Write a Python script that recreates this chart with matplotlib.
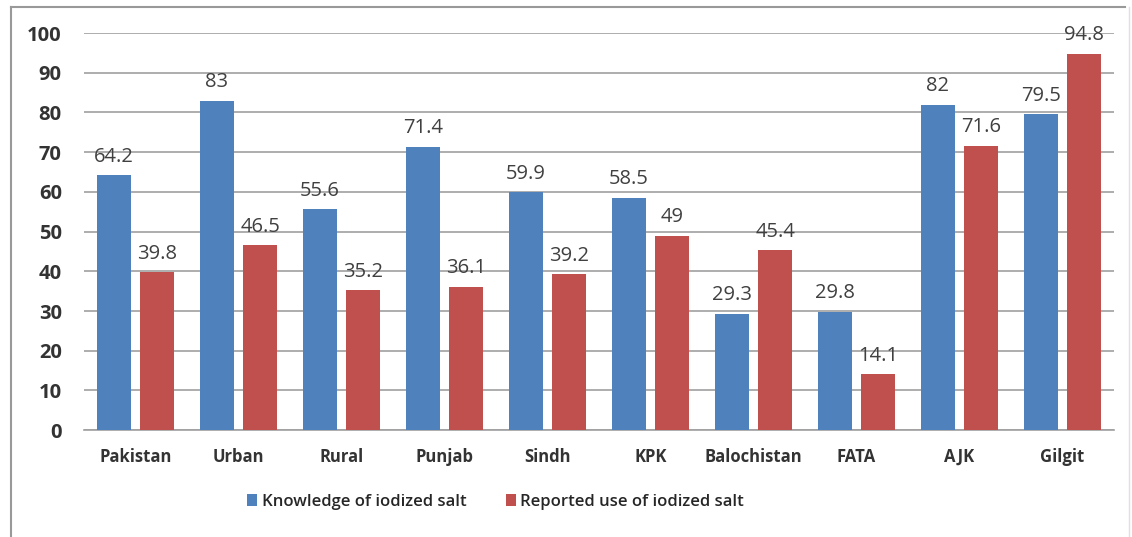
import matplotlib.pyplot as plt
from matplotlib.lines import Line2D
import numpy as np

regions = ["Pakistan", "Urban", "Rural", "Punjab", "Sindh", "KPK",
           "Balochistan", "FATA", "AJK", "Gilgit"]
knowledge = [64.2, 83, 55.6, 71.4, 59.9, 58.5, 29.3, 29.8, 82, 79.5]
reported_use = [39.8, 46.5, 35.2, 36.1, 39.2, 49, 45.4, 14.1, 71.6, 94.8]
labels_k = ["64.2", "83", "55.6", "71.4", "59.9", "58.5", "29.3", "29.8", "82", "79.5"]
labels_r = ["39.8", "46.5", "35.2", "36.1", "39.2", "49", "45.4", "14.1", "71.6", "94.8"]

blue = "#4F81BD"
red = "#C0504D"

plt.rcParams["font.family"] = ["Open Sans", "DejaVu Sans"]

fig = plt.figure(figsize=(11.32, 5.37), dpi=100)
ax = fig.add_axes([0.0742, 0.199, 0.9099, 0.7395])

x = np.arange(len(regions))
w = 0.325
off = 0.21
b1 = ax.bar(x - off, knowledge, w, color=blue, label="Knowledge of iodized salt", zorder=3)
b2 = ax.bar(x + off, reported_use, w, color=red, label="Reported use of iodized salt", zorder=3)

for bars, labs in ((b1, labels_k), (b2, labels_r)):
    for rect, lab in zip(bars, labs):
        ax.annotate(lab, (rect.get_x() + rect.get_width() / 2, rect.get_height()),
                    xytext=(0, 6), textcoords="offset points", ha="center", va="bottom",
                    fontsize=14.5, color="#404040")

ax.set_xlim(-0.5, len(regions) - 0.5)
ax.set_ylim(0, 100)
ax.set_yticks(range(0, 101, 10))
ax.yaxis.grid(True, color="#a0a0a0", linewidth=1.2, zorder=0)
ax.set_axisbelow(True)
ax.set_xticks(x)
ax.set_xticklabels(regions, fontsize=12, fontweight="bold", color="#333333")
for t in ax.get_yticklabels():
    t.set_fontsize(14.5)
    t.set_fontweight("bold")
    t.set_color("#333333")
ax.tick_params(axis="both", length=0)
ax.tick_params(axis="x", pad=13)
ax.tick_params(axis="y", pad=16)
for s in ("top", "right", "left"):
    ax.spines[s].set_visible(False)
ax.spines["bottom"].set_color("#a0a0a0")
ax.spines["bottom"].set_linewidth(1.2)

leg = fig.legend(handles=[b1, b2], loc="center", bbox_to_anchor=(0.438, 0.065), ncol=2,
                 frameon=False, prop={"size": 12, "weight": "semibold"},
                 handlelength=0.6, handleheight=0.75,
                 handletextpad=0.25, columnspacing=2.4)
for t in leg.get_texts():
    t.set_color("#262626")

# chart border
fig.add_artist(Line2D([0.0093, 0.0093], [0, 0.987], color="#999999", lw=1.5))
fig.add_artist(Line2D([0.0093, 0.994], [0.987, 0.987], color="#999999", lw=1.5))
fig.add_artist(Line2D([0.997, 0.997], [0, 0.987], color="#e0e0e0", lw=1))

fig.savefig("out.png", dpi=100)
